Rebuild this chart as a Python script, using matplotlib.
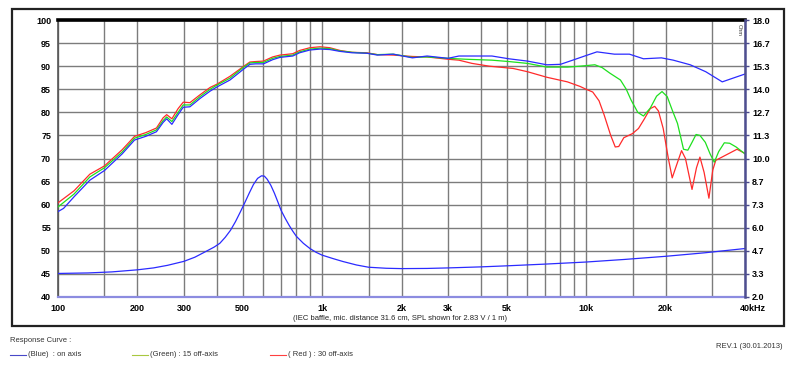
#%%
# Librerías
import matplotlib
matplotlib.use("Agg")
import matplotlib.pyplot as plt
import matplotlib.patches as patches
from matplotlib.lines import Line2D
from matplotlib.transforms import ScaledTranslation

plt.rcParams["font.family"] = ["Liberation Sans", "DejaVu Sans"]

#%%
# Datos (Hz, dB)
freq_azul = [100, 105, 115, 132, 150, 175, 195, 215, 236, 250, 258, 270, 285, 298, 316, 345, 377,
             400, 448, 503, 533, 560, 600, 650, 693, 775, 822, 900, 983, 1070, 1170, 1300, 1480,
             1620, 1860, 2200, 2500, 3000, 3300, 4400, 5100, 6000, 7100, 8000, 8900, 10000,
             11000, 12800, 14600, 16500, 19300, 21400, 24800, 28400, 32800, 36000, 40000]
spl_azul = [58.5, 59.2, 61.7, 65.3, 67.4, 71.0, 74.0, 74.8, 75.8, 77.8, 78.6, 77.4, 79.5, 81.1, 81.2,
            83.0, 84.6, 85.5, 87.0, 89.3, 90.4, 90.5, 90.5, 91.4, 91.9, 92.2, 92.9, 93.5, 93.7,
            93.6, 93.2, 92.9, 92.8, 92.4, 92.6, 91.8, 92.2, 91.7, 92.2, 92.2, 91.6, 91.1, 90.3,
            90.4, 91.3, 92.3, 93.1, 92.6, 92.6, 91.6, 91.8, 91.3, 90.3, 88.8, 86.6, 87.4, 88.3]

freq_verde = [100, 115, 132, 150, 175, 195, 215, 236, 250, 258, 270, 285, 298, 316, 345, 377, 400,
              448, 503, 533, 560, 600, 650, 693, 775, 822, 900, 983, 1070, 1170, 1300, 1480, 1620,
              1860, 2200, 2500, 3000, 3500, 4400, 5100, 6000, 7100, 8500, 9500, 10800, 11500,
              12300, 13500, 14200, 14800, 15700, 16500, 17500, 18500, 19400, 20300, 21200, 22200,
              23400, 24300, 25200, 26100, 27000, 28300, 29500, 30600, 31800, 33400, 35000, 37000,
              40000]
spl_verde = [59.5, 62.3, 66.0, 68.0, 71.4, 74.4, 75.2, 76.2, 78.2, 79.0, 78.0, 80.0, 81.6, 81.6,
             83.4, 85.0, 85.9, 87.4, 89.7, 90.7, 90.8, 90.8, 91.7, 92.1, 92.4, 93.1, 93.7, 93.9,
             93.8, 93.3, 93.0, 92.8, 92.5, 92.6, 91.9, 92.0, 91.7, 91.5, 91.3, 91.0, 90.6, 89.8,
             89.8, 90.0, 90.3, 89.7, 88.5, 87.0, 85.0, 82.7, 80.0, 79.2, 80.9, 83.5, 84.5, 83.4,
             80.5, 77.6, 72.0, 71.8, 73.5, 75.2, 75.0, 73.5, 71.0, 69.2, 71.5, 73.4, 73.3, 72.5,
             71.0]

freq_rojo = [100, 115, 132, 150, 175, 195, 215, 236, 250, 258, 270, 285, 298, 316, 345, 377, 400,
             448, 503, 533, 560, 600, 650, 693, 775, 822, 900, 983, 1070, 1170, 1300, 1480, 1620,
             1860, 2200, 2500, 3000, 3300, 3700, 4300, 5300, 6000, 7100, 8500, 9500, 10000, 10600,
             11200, 11700, 12400, 12900, 13300, 13900, 15000, 15800, 16600, 17500, 18200, 18800,
             19600, 20500, 21200, 22000, 23000, 23800, 25200, 26200, 27000, 28000, 29200, 30200,
             31000, 34000, 37300, 40000]
spl_rojo = [60.4, 63.0, 66.6, 68.4, 71.9, 74.8, 75.6, 76.6, 78.8, 79.5, 78.6, 80.8, 82.2, 82.1,
            83.8, 85.4, 86.1, 87.8, 89.9, 90.9, 91.0, 91.1, 92.0, 92.4, 92.7, 93.4, 94.0, 94.2,
            94.0, 93.4, 93.0, 92.9, 92.5, 92.4, 92.1, 92.0, 91.5, 91.3, 90.6, 90.0, 89.5, 88.8,
            87.6, 86.6, 85.6, 85.0, 84.4, 82.5, 79.5, 75.0, 72.5, 72.6, 74.5, 75.4, 76.5, 78.5,
            80.8, 81.3, 80.3, 76.5, 70.0, 65.8, 68.5, 71.7, 70.0, 63.3, 68.0, 70.3, 67.0, 61.4,
            67.5, 69.6, 70.8, 72.0, 71.1]

# Impedancia (Ohm)
freq_imp = [100, 130, 160, 200, 230, 260, 300, 330, 360, 390, 410, 430, 450, 470, 490, 510, 530,
            550, 570, 590, 605, 620, 640, 660, 680, 700, 725, 750, 775, 800, 850, 900, 950, 1000,
            1100, 1200, 1350, 1500, 1750, 2000, 2500, 3000, 4000, 5000, 7000, 10000, 14000,
            20000, 28000, 40000]
ohm_imp = [3.36, 3.39, 3.45, 3.57, 3.68, 3.83, 4.06, 4.3, 4.6, 4.88, 5.1, 5.45, 5.85, 6.35, 6.9,
           7.45, 8.0, 8.5, 8.85, 9.0, 8.98, 8.8, 8.45, 8.0, 7.5, 7.0, 6.55, 6.15, 5.8, 5.5, 5.1,
           4.8, 4.58, 4.42, 4.22, 4.05, 3.85, 3.72, 3.66, 3.64, 3.65, 3.68, 3.74, 3.8, 3.9, 4.02,
           4.17, 4.35, 4.55, 4.8]

# Ejes
freq_grid = [100, 150, 200, 300, 400, 500, 600, 700, 800, 900, 1000, 1500, 2000, 3000, 4000,
             5000, 6000, 7000, 8000, 9000, 10000, 15000, 20000, 30000, 40000]
etiquetas_x = {100: "100", 200: "200", 300: "300", 500: "500", 1000: "1k", 2000: "2k",
               3000: "3k", 5000: "5k", 10000: "10k", 20000: "20k", 40000: "40kHz"}
ticks_db = list(range(40, 101, 5))
ticks_ohm = [2 + 16 / 12 * i for i in range(13)]

#%%
# Figura
fig = plt.figure(figsize=(8, 3.8), dpi=100)
ax = fig.add_axes([58 / 800, 1 - 297 / 380, 687 / 800, 277 / 380])

ax.plot(freq_azul, spl_azul, color="#2b2bff", lw=0.9, zorder=5)
ax.plot(freq_verde, spl_verde, color="#1ee01e", lw=0.9, zorder=4)
ax.plot(freq_rojo, spl_rojo, color="#ff2a2a", lw=0.9, zorder=3)

ax.set_xscale("log")
ax.set_xlim(100, 40000)
ax.set_ylim(40, 100)
ax.set_xticks(freq_grid)
ax.set_xticklabels([etiquetas_x.get(f, "") for f in freq_grid])
ax.xaxis.set_minor_locator(matplotlib.ticker.NullLocator())
ax.set_yticks(ticks_db)
ax.grid(True, color="#7c7c7c", lw=1.0)
ax.set_axisbelow(True)
ax.tick_params(axis="both", length=0, labelsize=6.5)
ax.tick_params(axis="x", pad=5)
ax.tick_params(axis="y", pad=5)
for lab in ax.get_xticklabels() + ax.get_yticklabels():
    lab.set_fontweight("bold")
ultimo = ax.get_xticklabels()[-1]
ultimo.set_transform(ultimo.get_transform() + ScaledTranslation(8 / 100, 0, fig.dpi_scale_trans))

ax.spines["top"].set_color("black")
ax.spines["top"].set_linewidth(2.6)
ax.spines["right"].set_visible(False)
ax.spines["left"].set_color("#555555")
ax.spines["left"].set_linewidth(1.2)
ax.spines["bottom"].set_color("#8c8ce0")
ax.spines["bottom"].set_linewidth(1.6)

# Eje derecho: impedancia
ax2 = ax.twinx()
ax2.plot(freq_imp, ohm_imp, color="#2b2bff", lw=0.9)
ax2.set_ylim(2, 18)
ax2.set_yticks(ticks_ohm)
ax2.set_yticklabels([f"{v:.1f}" for v in ticks_ohm])
ax2.tick_params(axis="y", length=3, width=1, color="#4a4a8a", labelsize=6.5, pad=2)
for lab in ax2.get_yticklabels():
    lab.set_fontweight("bold")
for s in ["top", "left", "bottom"]:
    ax2.spines[s].set_visible(False)
ax2.spines["right"].set_color("#4e4e90")
ax2.spines["right"].set_linewidth(1.8)

ax2.text(0.992, 0.985, "Ohm", transform=ax2.transAxes, rotation=270, fontsize=4,
         ha="center", va="top", color="#333333")

#%%
# Textos y leyenda
fig.add_artist(patches.Rectangle((12 / 800, 1 - 326 / 380), 772 / 800, 317 / 380,
                                 transform=fig.transFigure, fill=False, ec="#222222", lw=1.6))
fig.text(400 / 800, 1 - 318 / 380, "(IEC baffle, mic. distance 31.6 cm, SPL shown for 2.83 V / 1 m)",
         fontsize=5.5, ha="center", va="center", color="#222222")
fig.text(10 / 800, 1 - 340 / 380, "Response Curve :", fontsize=5.5, va="center", color="#333333")
fig.text(782 / 800, 1 - 346 / 380, "REV.1 (30.01.2013)", fontsize=5.5, ha="right", va="center",
         color="#333333")

leyenda = [(10, "#4848c8", "(Blue)  : on axis"),
           (132, "#a8c840", "(Green) : 15 off-axis"),
           (270, "#ff4040", "( Red ) : 30 off-axis")]
y_ley = 1 - 355 / 380
for x0, col, txt in leyenda:
    fig.add_artist(Line2D([x0 / 800, (x0 + 16) / 800], [y_ley, y_ley], transform=fig.transFigure,
                          color=col, lw=0.8))
    fig.text((x0 + 18) / 800, y_ley, txt, fontsize=5.5, va="center", color="#333333")

plt.savefig("out.png", dpi=100)
